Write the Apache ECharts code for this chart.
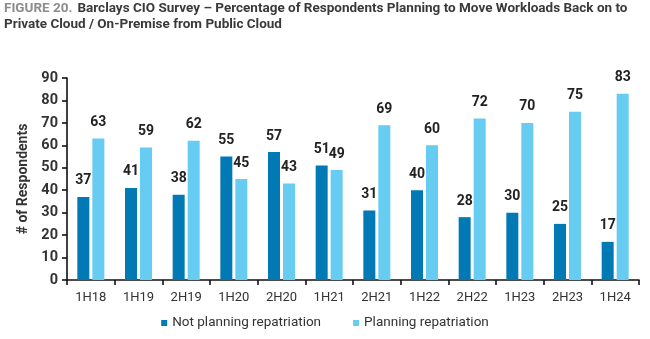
<!DOCTYPE html>
<html>
<head>
<meta charset="utf-8">
<script src="https://cdn.jsdelivr.net/npm/echarts@6/dist/echarts.min.js"></script>
<style>
  html, body { margin: 0; padding: 0; background: #ffffff; }
  #chart { width: 650px; height: 339px; }
</style>
</head>
<body>
<div id="chart"></div>
<script>
// Survey periods (half-years)
const periods = ['1H18', '1H19', '2H19', '1H20', '2H20', '1H21', '2H21', '1H22', '2H22', '1H23', '2H23', '1H24'];
// Share of respondents not planning to repatriate workloads
const notPlanning = [37, 41, 38, 55, 57, 51, 31, 40, 28, 30, 25, 17];
// Share of respondents planning to repatriate workloads
const planning = [63, 59, 62, 45, 43, 49, 69, 60, 72, 70, 75, 83];
// Value axis ticks
const yTicks = [0, 10, 20, 30, 40, 50, 60, 70, 80, 90];

const FONT = 'Roboto, "Open Sans", sans-serif';
const DARK = '#0079b5';
const LIGHT = '#66ccf2';

const chart = echarts.init(document.getElementById('chart'), null, { renderer: 'canvas' });

const labelStyle = {
  show: true,
  position: 'top',
  distance: 9,
  fontFamily: FONT,
  fontWeight: 'bold',
  fontSize: 14,
  color: '#222222'
};

chart.setOption({
  animation: false,
  backgroundColor: '#ffffff',
  title: {
    left: 4,
    top: 0,
    padding: [1, 0, 0, 0],
    text: '{g|FIGURE 20.} {b|Barclays CIO Survey – Percentage of Respondents Planning to Move Workloads Back on to}\n{b|Private Cloud / On-Premise from Public Cloud}',
    textStyle: {
      lineHeight: 16,
      rich: {
        g: { fontFamily: FONT, fontSize: 13.5, color: '#8c8c8c', lineHeight: 16 },
        b: { fontFamily: FONT, fontSize: 13.5, fontWeight: 'bold', color: '#3a3a3a', lineHeight: 16 }
      }
    }
  },
  legend: {
    bottom: 4,
    left: 'center',
    itemWidth: 6,
    itemHeight: 6,
    itemGap: 32,
    icon: 'rect',
    textStyle: { fontFamily: FONT, fontSize: 13.5, color: '#333333' },
    data: ['Not planning repatriation', 'Planning repatriation']
  },
  grid: { left: 67, right: 11, top: 78, bottom: 59, containLabel: false },
  xAxis: {
    type: 'category',
    data: periods,
    axisLine: { lineStyle: { color: '#111111', width: 1.6 } },
    axisTick: { show: true, length: 5, alignWithLabel: false, lineStyle: { color: '#111111', width: 1.6 } },
    axisLabel: { fontFamily: FONT, fontSize: 13, color: '#333333', margin: 11 }
  },
  yAxis: {
    type: 'value',
    min: yTicks[0],
    max: yTicks[yTicks.length - 1],
    interval: 10,
    name: '# of Respondents',
    nameLocation: 'middle',
    nameGap: 36,
    nameTextStyle: { fontFamily: FONT, fontSize: 14, fontWeight: 'bold', color: '#333333' },
    axisLine: { show: true, lineStyle: { color: '#111111', width: 1.6 } },
    axisTick: { show: true, length: 5, lineStyle: { color: '#111111', width: 1.6 } },
    splitLine: { show: false },
    axisLabel: { fontFamily: FONT, fontSize: 14.5, fontWeight: 'bold', color: '#333333', margin: 9 }
  },
  series: [
    {
      name: 'Not planning repatriation',
      type: 'bar',
      data: notPlanning,
      barWidth: 12,
      barGap: '25%',
      itemStyle: { color: DARK },
      label: labelStyle
    },
    {
      name: 'Planning repatriation',
      type: 'bar',
      data: planning,
      barWidth: 12,
      itemStyle: { color: LIGHT },
      label: labelStyle
    }
  ]
});
</script>
</body>
</html>
